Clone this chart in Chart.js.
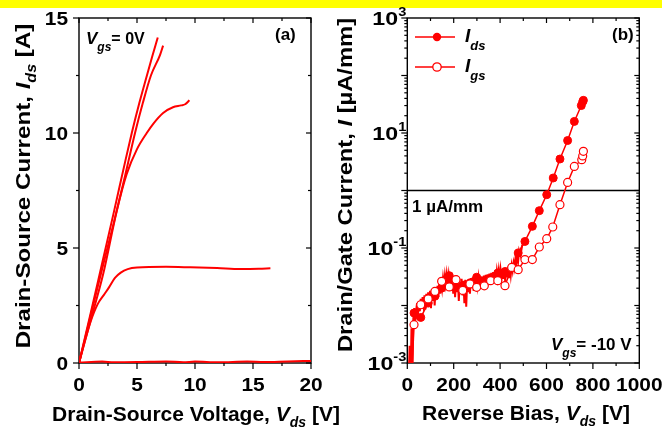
<!DOCTYPE html>
<html><head><meta charset="utf-8">
<script src="https://cdn.jsdelivr.net/npm/chart.js@4/dist/chart.umd.min.js"></script>
<style>
html,body{margin:0;padding:0;background:#fff;width:662px;height:427px;overflow:hidden;}
#band{position:absolute;left:0;top:0;width:662px;height:8px;background:#ffff00;}
#wa{position:absolute;left:0;top:0;width:360px;height:427px;}
#wb{position:absolute;left:331px;top:0;width:331px;height:427px;}
canvas{display:block;}
</style></head><body>
<div id="band"></div>
<div id="wa"><canvas id="ca" width="360" height="427"></canvas></div>
<div id="wb"><canvas id="cb" width="331" height="427"></canvas></div>
<script>
// ---------- Panel (a) data ----------
const xTicksA = [0, 5, 10, 15, 20];
const yTicksA = [0, 5, 10, 15];
const curve1V = [0, 1, 2, 3, 4, 4.55, 5.2, 5.8, 6.3, 6.79];
const curve1I = [0, 2.15, 4.35, 6.55, 8.8, 10.0, 11.3, 12.4, 13.3, 14.15];
const curve2V = [0, 1, 2, 3, 4, 4.83, 5.5, 6.2, 6.99, 7.25];
const curve2I = [0, 2.05, 4.1, 6.1, 8.2, 10.0, 11.3, 12.5, 13.4, 13.8];
const curve3V = [0, 1, 2.1, 3.25, 4.1, 5.0, 5.84, 6.4, 7.25, 8.1, 8.8, 9.15, 9.52];
const curve3I = [0, 1.85, 3.9, 6.6, 8.2, 9.3, 10.0, 10.4, 10.87, 11.12, 11.2, 11.25, 11.42];
const curve4V = [0, 0.5, 1, 1.6, 2.2, 2.6, 3.1, 3.6, 4.2, 5, 7.5, 9.6, 11.9, 13.9, 15.5, 16.5];
const curve4I = [0, 0.95, 1.8, 2.55, 3.0, 3.3, 3.7, 3.93, 4.08, 4.15, 4.18, 4.16, 4.13, 4.09, 4.1, 4.12];
const curve5V = [0, 2, 3, 5, 7.5, 9, 10, 12, 14.5, 16, 18, 20];
const curve5I = [0.02, 0.06, 0.03, 0.04, 0.07, 0.03, 0.06, 0.03, 0.06, 0.04, 0.07, 0.09];

// ---------- Panel (b) data ----------
const xTicksB = [0, 200, 400, 600, 800, 1000];
const yExpB = [-3, -2, -1, 0, 1, 2, 3];
const yLabelExpB = [-3, -1, 1, 3];
const refLevel = 1; // 1 uA/mm
const rawV = [0,6,10,14,18,22,26,30,34,38,42,46,50,54,58,62,66,70,74,78,82,86,90,94,98,102,106,110,114,118,122,126,130,134,138,142,146,150,154,158,162,166,170,174,178,182,186,190,194,198,202,206,210,214,218,222,226,230,234,238,242,246,250,254,258,262,266,270,274,278,282,286,290,294,298,302,306,310,314,318,322,326,330,334,338,342,346,350,354,358,362,366,370,374,378,382,386,390,394,398,402,406,410,414,418,422,426,430,434,438,442,446,450,454,458,462,466,470,474,478,482,488,495,502];
const rawIds = [0.0003,0.0005,0.002,0.0004,0.004,0.0006,0.006,0.009,0.006,0.008,
0.011,0.007,0.012,0.008,0.013,0.009,0.014,0.010,0.015,0.0085,
0.016,0.011,0.017,0.010,0.018,0.009,0.019,0.012,0.020,0.010,
0.021,0.013,0.022,0.014,0.024,0.016,0.028,0.020,0.030,0.022,
0.033,0.024,0.035,0.025,0.034,0.022,0.032,0.018,0.030,0.016,
0.029,0.014,0.027,0.017,0.028,0.012,0.026,0.016,0.029,0.015,
0.027,0.011,0.028,0.0095,0.026,0.017,0.029,0.016,0.030,0.020,
0.031,0.018,0.032,0.020,0.033,0.022,0.030,0.019,0.031,0.021,
0.032,0.020,0.033,0.022,0.034,0.020,0.035,0.024,0.036,0.023,
0.037,0.025,0.038,0.026,0.039,0.027,0.040,0.030,0.041,0.028,
0.042,0.030,0.043,0.029,0.044,0.026,0.045,0.032,0.046,0.030,
0.048,0.034,0.050,0.040,0.055,0.045,0.065,0.050,0.075,0.060,
0.090,0.075,0.110,0.120];
const idsV = [29,58,90,119,148,181,210,239,270,299,332,359,390,421,450,478,507,539,569,601,629,658,691,720,750,756,759];
const idsI = [0.0074,0.0062,0.011,0.0145,0.02,0.033,0.028,0.022,0.0246,0.031,0.025,0.028,0.0367,0.039,0.045,0.082,0.13,0.238,0.446,0.845,1.65,3.53,7.4,15.9,30,35,37];
const igsV = [16,29,58,90,119,148,181,210,239,270,299,332,359,390,421,450,478,507,539,569,601,627,658,691,720,752,756,759];
const igsI = [0.0003,0.00464,0.0103,0.013,0.0176,0.0263,0.021,0.0281,0.0183,0.0237,0.0207,0.022,0.027,0.027,0.0221,0.046,0.042,0.063,0.063,0.104,0.145,0.232,0.566,1.38,2.62,3.43,4.0,4.8];

// ---------- helpers ----------
const FAM = '"Liberation Sans", Arial, Helvetica, sans-serif';
const RED = '#ff0000';
function fnt(size, italic){ return (italic ? 'italic ' : '') + 'bold ' + size + 'px ' + FAM; }
function pts(xs, ys){ return xs.map((x, i) => ({x: x, y: ys[i]})); }
function rich(ctx, parts, x, y, align, angle, sx){
  ctx.save();
  ctx.translate(x, y);
  if (angle) ctx.rotate(angle);
  if (sx) ctx.scale(sx, 1);
  ctx.textBaseline = 'alphabetic';
  ctx.textAlign = 'left';
  ctx.fillStyle = '#000';
  let w = 0;
  parts.forEach(p => { ctx.font = fnt(p.s, p.i); w += ctx.measureText(p.t).width; });
  let cx = align === 'center' ? -w / 2 : (align === 'right' ? -w : 0);
  parts.forEach(p => { ctx.font = fnt(p.s, p.i); ctx.fillText(p.t, cx, p.dy || 0); cx += ctx.measureText(p.t).width; });
  ctx.restore();
}
function tick(ctx, x1, y1, x2, y2){ ctx.beginPath(); ctx.moveTo(x1, y1); ctx.lineTo(x2, y2); ctx.stroke(); }
function drawFrame(chart, xMaj, xMin, yMaj, yMin){
  const ctx = chart.ctx, a = chart.chartArea, xs = chart.scales.x, ys = chart.scales.y;
  ctx.save();
  ctx.strokeStyle = '#000';
  ctx.lineWidth = 1.4;
  ctx.strokeRect(a.left, a.top, a.right - a.left, a.bottom - a.top);
  ctx.lineWidth = 1.2;
  xMaj.forEach(v => { const p = xs.getPixelForValue(v); tick(ctx, p, a.bottom, p, a.bottom + 6); tick(ctx, p, a.top, p, a.top + 5); });
  xMin.forEach(v => { const p = xs.getPixelForValue(v); tick(ctx, p, a.bottom, p, a.bottom + 3); tick(ctx, p, a.top, p, a.top + 3); });
  yMaj.forEach(v => { const p = ys.getPixelForValue(v); tick(ctx, a.left - 6, p, a.left, p); tick(ctx, a.right - 5, p, a.right, p); });
  yMin.forEach(v => { const p = ys.getPixelForValue(v); tick(ctx, a.left - 3, p, a.left, p); tick(ctx, a.right - 3, p, a.right, p); });
  ctx.restore();
}
const TSX = 1.1; // tick label width factor

// ---------- Chart (a) ----------
const minorXA = [2.5, 7.5, 12.5, 17.5];
const minorYA = [2.5, 7.5, 12.5];
const decorA = {
  id: 'decorA',
  beforeDatasetsDraw(chart){
    drawFrame(chart, xTicksA, minorXA, yTicksA, minorYA);
  },
  afterDraw(chart){
    const ctx = chart.ctx, a = chart.chartArea, xs = chart.scales.x, ys = chart.scales.y;
    xTicksA.forEach(v => rich(ctx, [{t:String(v), s:19}], xs.getPixelForValue(v), a.bottom + 28, 'center', 0, TSX));
    yTicksA.forEach(v => rich(ctx, [{t:String(v), s:19}], a.left - 11, ys.getPixelForValue(v) + 7, 'right', 0, TSX));
    rich(ctx, [{t:'Drain-Source Voltage, ', s:21}, {t:'V', s:21, i:true}, {t:'ds', s:14, i:true, dy:6}, {t:' [V]', s:21}], 196, 421, 'center');
    rich(ctx, [{t:'Drain-Source Current, ', s:21}, {t:'I', s:21, i:true}, {t:'ds', s:14, i:true, dy:6}, {t:' [A]', s:21}], 30, 186, 'center', -Math.PI / 2, 1.15);
    rich(ctx, [{t:'V', s:17, i:true}, {t:'gs', s:12, i:true, dy:7}, {t:'= 0V', s:16}], 86, 43.5, 'left');
    rich(ctx, [{t:'(a)', s:17}], 275, 40, 'left');
  }
};
const lineDs = (xs, ys) => ({data: pts(xs, ys), showLine: true, borderColor: RED, borderWidth: 2, pointRadius: 0, tension: 0.3, cubicInterpolationMode: 'monotone'});
new Chart(document.getElementById('ca'), {
  type: 'scatter',
  data: { datasets: [lineDs(curve1V, curve1I), lineDs(curve2V, curve2I), lineDs(curve3V, curve3I), lineDs(curve4V, curve4I), lineDs(curve5V, curve5I)] },
  options: {
    responsive: false, animation: false, devicePixelRatio: 1,
    layout: { padding: { left: 79, right: 49, top: 18, bottom: 64 } },
    plugins: { legend: { display: false }, tooltip: { enabled: false } },
    scales: {
      x: { type: 'linear', min: 0, max: 20, display: false },
      y: { type: 'linear', min: 0, max: 15, display: false }
    }
  },
  plugins: [decorA]
});

// ---------- Chart (b) ----------
const majYB = yExpB.map(e => Math.pow(10, e));
const minYB = [];
yExpB.slice(0, -1).forEach(e => { for (let m = 2; m <= 9; m++) minYB.push(m * Math.pow(10, e)); });
const minXB = [100, 300, 500, 700, 900];
const decorB = {
  id: 'decorB',
  beforeDatasetsDraw(chart){
    const ctx = chart.ctx, a = chart.chartArea, ys = chart.scales.y;
    drawFrame(chart, xTicksB, minXB, majYB, minYB);
    const p = ys.getPixelForValue(refLevel);
    ctx.save(); ctx.strokeStyle = '#000'; ctx.lineWidth = 1.6;
    tick(ctx, a.left, p, a.right, p);
    ctx.restore();
  },
  afterDraw(chart){
    const ctx = chart.ctx, a = chart.chartArea, xs = chart.scales.x, ys = chart.scales.y;
    xTicksB.forEach(v => rich(ctx, [{t:String(v), s:19}], xs.getPixelForValue(v), a.bottom + 28, 'center', 0, TSX));
    yLabelExpB.forEach(e => {
      const p = ys.getPixelForValue(Math.pow(10, e));
      rich(ctx, [{t:'10', s:19}, {t:String(e), s:12, dy:-9}], a.left - 1, p + 7, 'right', 0, 1.22);
    });
    rich(ctx, [{t:'Reverse Bias, ', s:21}, {t:'V', s:21, i:true}, {t:'ds', s:14, i:true, dy:6}, {t:' [V]', s:21}], 195, 420, 'center');
    rich(ctx, [{t:'Drain/Gate Current, ', s:21}, {t:'I', s:21, i:true}, {t:' [\u00b5A/mm]', s:21}], 21, 185, 'center', -Math.PI / 2, 1.13);
    rich(ctx, [{t:'1 \u00b5A/mm', s:17}], 81, 212, 'left');
    rich(ctx, [{t:'V', s:17, i:true}, {t:'gs', s:12, i:true, dy:7}, {t:'= -10 V', s:17}], 220, 350, 'left');
    rich(ctx, [{t:'(b)', s:17}], 281, 40, 'left');
    // legend
    ctx.save();
    ctx.strokeStyle = RED; ctx.lineWidth = 1.6;
    tick(ctx, 84, 37, 124, 37);
    tick(ctx, 84, 67, 124, 67);
    ctx.fillStyle = RED;
    ctx.beginPath(); ctx.arc(106, 37, 4.2, 0, Math.PI * 2); ctx.fill();
    ctx.fillStyle = '#fff'; ctx.lineWidth = 1.3;
    ctx.beginPath(); ctx.arc(106, 67, 4.2, 0, Math.PI * 2); ctx.fill(); ctx.stroke();
    ctx.restore();
    rich(ctx, [{t:'I', s:19, i:true}, {t:'ds', s:13, i:true, dy:8}], 134, 42, 'left');
    rich(ctx, [{t:'I', s:19, i:true}, {t:'gs', s:13, i:true, dy:8}], 134, 72, 'left');
  }
};
new Chart(document.getElementById('cb'), {
  type: 'scatter',
  data: { datasets: [
    { label: 'Igs', data: pts(igsV, igsI), showLine: true, borderColor: RED, borderWidth: 1.5, pointRadius: 4, pointBorderWidth: 1.2, pointBackgroundColor: '#fff', pointBorderColor: RED, order: 0 },
    { label: 'Ids', data: pts(idsV, idsI), showLine: true, borderColor: RED, borderWidth: 1.5, pointRadius: 4, pointBorderWidth: 1, pointBackgroundColor: RED, pointBorderColor: RED, order: 1 },
    { label: 'Ids raw', data: pts(rawV, rawIds), showLine: true, borderColor: RED, borderWidth: 2, pointRadius: 0, order: 2 }
  ]},
  options: {
    responsive: false, animation: false, devicePixelRatio: 1,
    layout: { padding: { left: 76.3, right: 22.7, top: 18, bottom: 64 } },
    plugins: { legend: { display: false }, tooltip: { enabled: false } },
    scales: {
      x: { type: 'linear', min: 0, max: 1000, display: false },
      y: { type: 'logarithmic', min: 1e-3, max: 1e3, display: false }
    }
  },
  plugins: [decorB]
});
</script>
</body></html>
